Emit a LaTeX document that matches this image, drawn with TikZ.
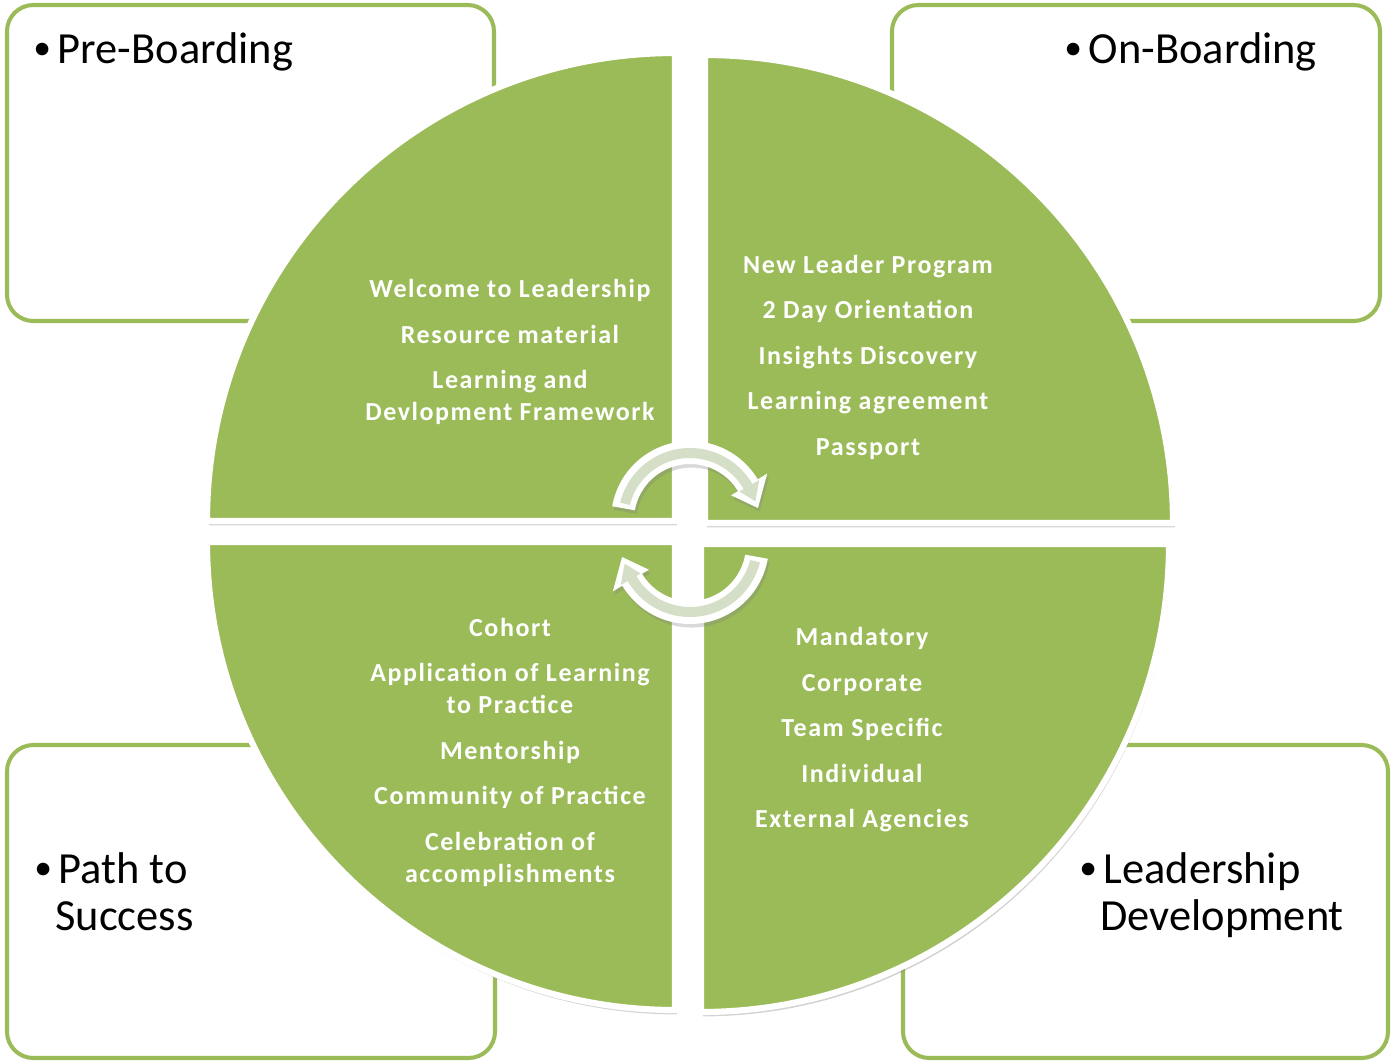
\documentclass[tikz,border=0pt]{standalone}
\usepackage{fontspec}
\setmainfont{Carlito}
\newfontfamily\itemfont[LetterSpace=6]{Carlito}
\usetikzlibrary{shadows}

\definecolor{leafgreen}{HTML}{9BBB59}
\definecolor{bandgrey}{HTML}{D5DEC7}

\newcommand{\bul}{\makebox[0.55em][l]{\raisebox{0.07em}{\scalebox{0.8}{\textbullet}}}}

\tikzset{
  phasebox/.style={draw=leafgreen, line width=2.3pt, rounded corners=15pt, fill=white},
  quarter/.style={fill=leafgreen, draw=white, line width=3.5pt,
    drop shadow={opacity=0.35, shadow xshift=1pt, shadow yshift=-2.5pt}},
  boxlabel/.style={anchor=base west, inner sep=0pt, text=black,
    font=\fontsize{25.3}{28}\selectfont},
  itemlist/.style={align=center, inner sep=0pt, text=white,
    font=\itemfont\bfseries\fontsize{14.8}{18.2}\selectfont},
  % turn = rin, rout, head in, head out, start, body end, tip angle, tip radius
  turn/.style n args={8}{insert path={(#5:#1) -- (#5:#2)
    arc[start angle=#5, end angle=#6, radius=#2] -- (#6:#4) -- (#7:#8)
    -- (#6:#3) -- (#6:#1) arc[start angle=#6, end angle=#5, radius=#1] -- cycle}},
  turnouter/.style={fill=white, drop shadow={opacity=0.3, shadow xshift=1pt, shadow yshift=-2pt}},
  turninner/.style={fill=bandgrey}
}

\begin{document}
\begin{tikzpicture}[x=0.02cm, y=-0.02cm]
  \useasboundingbox (0,0) rectangle (1393,1062);

  \draw[phasebox] (7,5) rectangle (494,321);      %Pre-Boarding box
  \draw[phasebox] (892,5) rectangle (1380,321);   %On-Boarding box
  \draw[phasebox] (7,745) rectangle (495,1058);   %Path to Success box
  \draw[phasebox] (903,745) rectangle (1388,1058);%Leadership Development box

  \node[boxlabel] (pre)  at (33,63)   {\bul Pre-Boarding};
  \node[boxlabel] (on)   at (1064,63) {\bul On-Boarding};
  \node[boxlabel] (path) at (34,883)  {\bul Path to};
  \node[boxlabel] (succ) at (55,930)  {Success};
  \node[boxlabel] (lead) at (1079,883) {\bul Leadership};
  \node[boxlabel] (dev)  at (1100,930) {Development};

  % four quarters of the circle
  \filldraw[quarter] (675,521) -- ++(180:468) arc[start angle=180, end angle=270, radius=468] -- cycle;
  \filldraw[quarter] (705,523) -- ++(270:468) arc[start angle=270, end angle=360, radius=468] -- cycle;
  \filldraw[quarter] (675,542) -- ++(90:468) arc[start angle=90, end angle=180, radius=468] -- cycle;
  \filldraw[quarter] (701,544) -- ++(0:468) arc[start angle=0, end angle=90, radius=468] -- cycle;

  % circular arrows in the middle
  \begin{scope}[shift={(690,520)}]
    \fill[turnouter, turn={56}{79}{48}{90}{190}{329}{350}{69}];
    \fill[turninner, turn={62}{72}{57}{80}{194}{330}{344}{68}];
  \end{scope}
  \begin{scope}[shift={(690,545)}, rotate=180]
    \fill[turnouter, turn={56}{79}{48}{90}{190}{329}{350}{69}];
    \fill[turninner, turn={62}{72}{57}{80}{194}{330}{344}{68}];
  \end{scope}

  \node[itemlist] (welcome) at (510,352) {Welcome to Leadership\\[7.7pt]
    Resource material\\[7.7pt] Learning and\\ Devlopment Framework};
  \node[itemlist] (newlead) at (868,357) {New Leader Program\\[7.7pt]
    2 Day Orientation\\[7.7pt] Insights Discovery\\[7.7pt]
    Learning agreement\\[7.7pt] Passport};
  \node[itemlist] (cohort) at (510,752) {Cohort\\[7.7pt]
    Application of Learning\\ to Practice\\[7.7pt] Mentorship\\[7.7pt]
    Community of Practice\\[7.7pt] Celebration of\\ accomplishments};
  \node[itemlist] (mandatory) at (862,730) {Mandatory\\[7.7pt]
    Corporate\\[7.7pt] Team Specific\\[7.7pt] Individual\\[7.7pt]
    External Agencies};
\end{tikzpicture}
\end{document}
